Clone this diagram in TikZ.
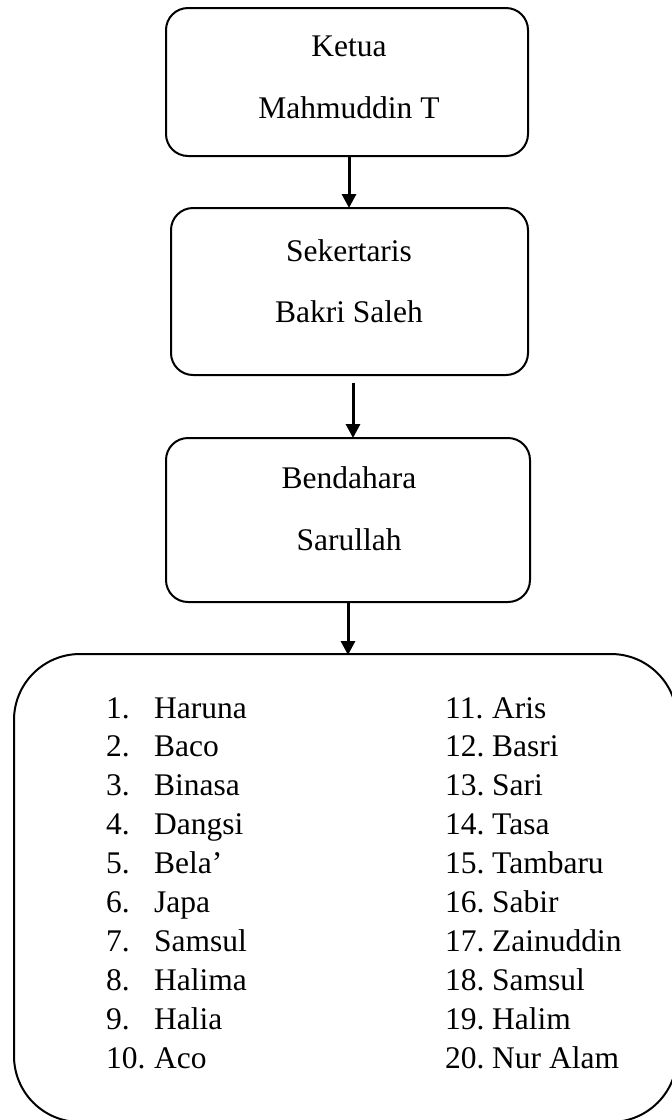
\documentclass[tikz,border=0pt]{standalone}
\usepackage{fontspec}
\setmainfont{Liberation Serif}
\usetikzlibrary{arrows.meta}
\begin{document}
\begin{tikzpicture}[x=1pt,y=-1pt,
  boxst/.style={draw=black,line width=2pt,rounded corners=22pt},
  txt/.style={font=\fontsize{31.5}{31.5}\selectfont,inner sep=0pt,anchor=base},
  lst/.style={font=\fontsize{31.5}{31.5}\selectfont,inner sep=0pt,anchor=base west},
  arr/.style={line width=3pt,-{Triangle[length=14pt,width=14pt]}}]
\useasboundingbox (0,0) rectangle (672,1120);
% box 1
\draw[boxst] (166,8) rectangle (528,156);
\coordinate (b1s) at (349,156);
\node[txt] (t1a) at (349,56) {Ketua};
\node[txt] (t1b) at (349,118) {Mahmuddin T};
% box 2
\draw[boxst] (171,208) rectangle (528,375);
\coordinate (b2n) at (349,208);
\coordinate (b2s) at (353,383);
\node[txt] (t2a) at (349,261) {Sekertaris};
\node[txt] (t2b) at (349,322) {Bakri Saleh};
% box 3
\draw[boxst] (166,438) rectangle (530,602);
\coordinate (b3n) at (353,438);
\coordinate (b3s) at (348,602);
\node[txt] (t3a) at (349,488) {Bendahara};
\node[txt] (t3b) at (349,550) {Sarullah};
% box 4
\draw[line width=2pt,rounded corners=66pt] (14,654) rectangle (677,1122);
\coordinate (b4n) at (348,655);
% arrows
\draw[arr] (b1s) -- (b2n);
\draw[arr] (b2s) -- (b3n);
\draw[arr] (b3s) -- (b4n);
% list
\foreach \n/\name [count=\i from 0] in {1/Haruna,2/Baco,3/Binasa,4/Dangsi,5/Bela’,6/Japa,7/Samsul,8/Halima,9/Halia,10/Aco}{
  \node[lst] (ln\n) at (106,718+38.9*\i) {\n.};
  \node[lst] (lm\n) at (154,718+38.9*\i) {\name};
}
\foreach \n/\name [count=\i from 0] in {11/Aris,12/Basri,13/Sari,14/Tasa,15/Tambaru,16/Sabir,17/Zainuddin,18/Samsul,19/Halim,20/Nur Alam}{
  \node[lst] (rn\n) at (445,718+38.9*\i) {\n.};
  \node[lst] (rm\n) at (492,718+38.9*\i) {\name};
}
\end{tikzpicture}
\end{document}
